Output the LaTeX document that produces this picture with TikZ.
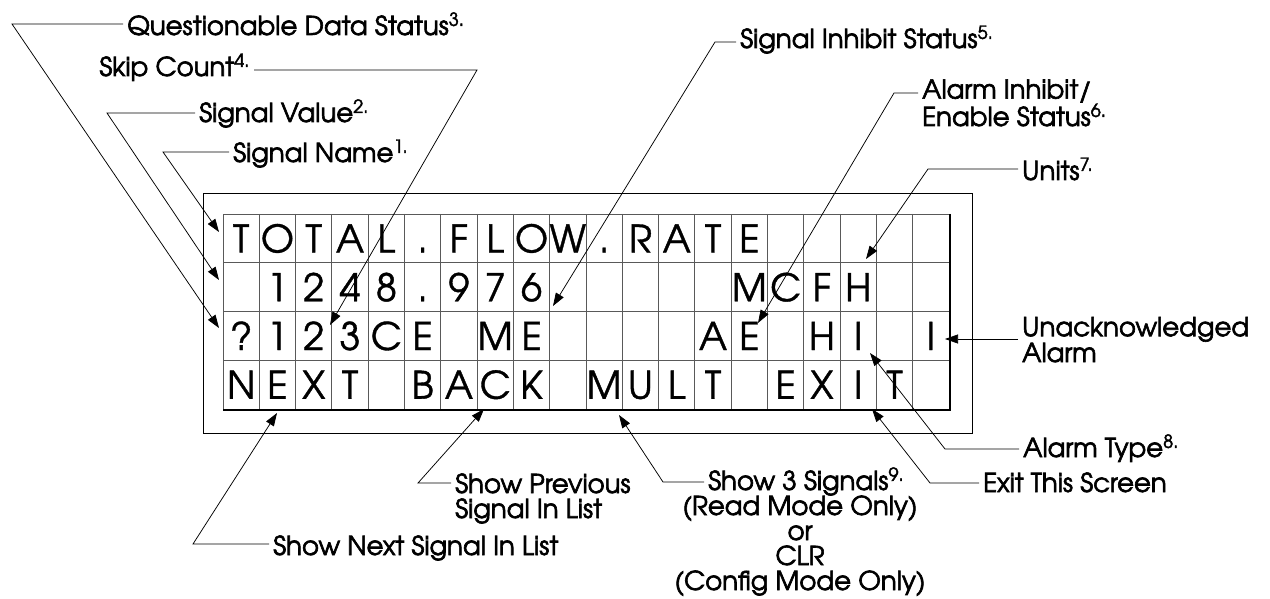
\documentclass[tikz,border=0pt]{standalone}
\usepackage{fontspec}
\setmainfont{texgyreadventor}[Extension=.otf,UprightFont=*-regular,BoldFont=*-bold,ItalicFont=*-italic,BoldItalicFont=*-bolditalic]
\newfontfamily\labelfont{texgyreadventor}[Extension=.otf,UprightFont=*-regular,FakeBold=2.4]
\newfontfamily\cellfont{texgyreadventor}[Extension=.otf,UprightFont=*-regular,FakeBold=1]
\usetikzlibrary{arrows.meta}
\newcommand\supnum[1]{\textsuperscript{#1}}
\begin{document}
\begin{tikzpicture}[x=1pt,y=-1pt,
  leader/.style={draw=black,line width=0.75pt},
  pointer/.style={leader,-{Triangle[length=13pt,width=9pt]}},
  lbl/.style={inner xsep=4pt,inner ysep=0pt,anchor=base west,align=left,
    font=\labelfont\fontsize{26}{25}\selectfont},
  cellchar/.style={anchor=base,inner sep=0pt,font=\cellfont\fontsize{38}{38}\selectfont},
  gridline/.style={draw=black!65,line width=0.9pt},
]
\useasboundingbox (0,0) rectangle (1270,599);

% bezel around the display
\node[draw,line width=1pt,minimum width=769pt,minimum height=240pt,
      anchor=north west,inner sep=0pt] (bezel) at (203,193) {};

% 20 x 4 character cells
\foreach \i in {1,...,19} \draw[gridline] ({223+\i*36.3},214) -- ({223+\i*36.3},409);
\foreach \j in {1,2,3} \draw[gridline] (223,{214+\j*48.75}) -- (949,{214+\j*48.75});
\node[draw=black!65,line width=0.9pt,minimum width=726pt,minimum height=195pt,
      anchor=north west,inner sep=0pt] (lcd) at (223,214) {};
\draw[line width=2pt] (lcd.north east) -- (lcd.south east) -- (lcd.south west);

% display characters
\foreach \c/\ch in {1/T,2/O,3/T,4/A,5/L,6/.,7/F,8/L,9/O,10/W,11/.,12/R,13/A,14/T,15/E}
  \node[cellchar] (ch-1-\c) at ({223+(\c-0.5)*36.3},252.5) {\ch};
\foreach \c/\ch in {2/1,3/2,4/4,5/8,6/.,7/9,8/7,9/6,15/M,16/C,17/F,18/H}
  \node[cellchar] (ch-2-\c) at ({223+(\c-0.5)*36.3},301.25) {\ch};
\foreach \c/\ch in {1/?,2/1,3/2,4/3,5/C,6/E,8/M,9/E,14/A,15/E,17/H,18/I,20/I}
  \node[cellchar] (ch-3-\c) at ({223+(\c-0.5)*36.3},350) {\ch};
\foreach \c/\ch in {1/N,2/E,3/X,4/T,6/B,7/A,8/C,9/K,11/M,12/U,13/L,14/T,16/E,17/X,18/I,19/T}
  \node[cellchar] (ch-4-\c) at ({223+(\c-0.5)*36.3},398.75) {\ch};

% labels (multi-line labels are placed by the baseline of their last line)
\node[lbl] (qds)   at (123,35)  {Questionable Data Status\supnum{3.}};
\node[lbl,anchor=base east] (skip) at (254,76) {Skip Count\supnum{4.}};
\node[lbl] (sval)  at (195,122) {Signal Value\supnum{2.}};
\node[lbl] (sname) at (229,162) {Signal Name\supnum{1.}};
\node[lbl] (sinh)  at (736,48)  {Signal Inhibit Status\supnum{5.}};
\node[lbl] (ainh)  at (918,126) {Alarm Inhibit/\\Enable Status\supnum{6.}};
\node[lbl] (units) at (1018,180){Units\supnum{7.}};
\node[lbl,font=\labelfont\fontsize{26}{21}\selectfont] (unack) at (1018,362) {Unacknowledged\\Alarm};
\node[lbl] (atype) at (1019,457){Alarm Type\supnum{8.}};
\node[lbl] (exit)  at (979,492) {Exit This Screen};
\node[lbl] (mult)  at (704,490) {Show 3 Signals\supnum{9.}};
\node[lbl,anchor=base,align=center] (multb) at (800,590)
  {(Read Mode Only)\\or\\CLR\\(Config Mode Only)};
\node[lbl] (prev)  at (451,518) {Show Previous\\Signal In List};
\node[lbl] (next)  at (269,555) {Show Next Signal In List};

% bends and targets of the leaders
\coordinate (qds-b)   at (12,24);   \coordinate (qds-t)   at (219,328);
\coordinate (skip-b)  at (477,70);  \coordinate (skip-t)  at (330,325);
\coordinate (sval-b)  at (107,113); \coordinate (sval-t)  at (219,280);
\coordinate (sname-b) at (163,152); \coordinate (sname-t) at (219,232);
\coordinate (sinh-b)  at (715,42);  \coordinate (sinh-t)  at (553,306);
\coordinate (ainh-b)  at (894,93);  \coordinate (ainh-t)  at (758,323);
\coordinate (units-b) at (928,169); \coordinate (units-t) at (866,259);
\coordinate (unack-b) at (1014,339);\coordinate (unack-t) at (945,339);
\coordinate (atype-b) at (945,449); \coordinate (atype-t) at (870,353);
\coordinate (exit-b)  at (930,483); \coordinate (exit-t)  at (872,409);
\coordinate (mult-b)  at (663,482); \coordinate (mult-t)  at (619,415);
\coordinate (prev-b)  at (418,483); \coordinate (prev-t)  at (484,409);
\coordinate (next-b)  at (193,544); \coordinate (next-t)  at (277,413);

% leaders
\draw[pointer] (qds.west |- qds-b) -- (qds-b) -- (qds-t);
\draw[pointer] (skip.east |- skip-b) -- (skip-b) -- (skip-t);
\draw[pointer] (sval.west |- sval-b) -- (sval-b) -- (sval-t);
\draw[pointer] (sname.west |- sname-b) -- (sname-b) -- (sname-t);
\draw[pointer] (sinh.west |- sinh-b) -- (sinh-b) -- (sinh-t);
\draw[pointer] (ainh.west |- ainh-b) -- (ainh-b) -- (ainh-t);
\draw[pointer] (units.west |- units-b) -- (units-b) -- (units-t);
\draw[pointer] (unack.west |- unack-b) -- (unack-t);
\draw[pointer] (atype.west |- atype-b) -- (atype-b) -- (atype-t);
\draw[pointer] (exit.west |- exit-b) -- (exit-b) -- (exit-t);
\draw[pointer] (mult.west |- mult-b) -- (mult-b) -- (mult-t);
\draw[pointer] (prev.west |- prev-b) -- (prev-b) -- (prev-t);
\draw[pointer] (next.west |- next-b) -- (next-b) -- (next-t);
\end{tikzpicture}
\end{document}
